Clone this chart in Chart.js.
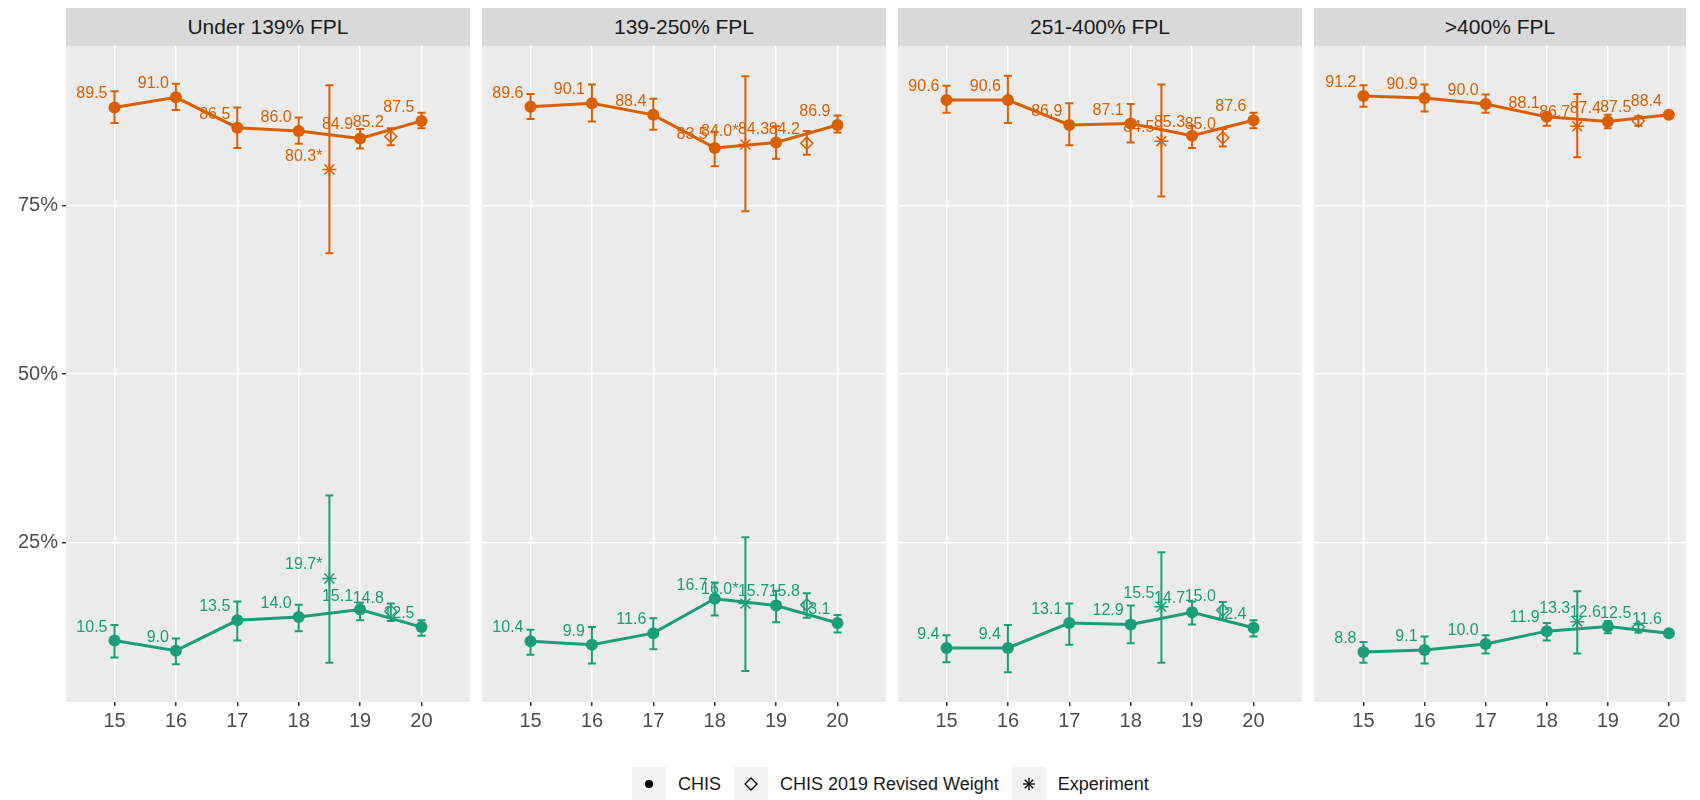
<!DOCTYPE html>
<html>
<head>
<meta charset="utf-8">
<script src="https://cdn.jsdelivr.net/npm/chart.js@4"></script>
<style>
  body {
    margin: 0;
    width: 1700px;
    height: 800px;
    background: #ffffff;
    position: relative;
    overflow: hidden;
    font-family: "Liberation Sans", Arial, sans-serif;
  }
  .strip {
    position: absolute;
    top: 8px;
    height: 38px;
    background: #d9d9d9;
    color: #1a1a1a;
    font-size: 21px;
    display: flex;
    align-items: center;
    justify-content: center;
  }
  .panel {
    position: absolute;
    top: 46px;
    height: 696px;
  }
  #legend {
    position: absolute;
    top: 767px;
    left: 632px;
    height: 34px;
    display: flex;
    align-items: center;
    font-size: 18px;
    color: #1a1a1a;
  }
  #legend .key {
    width: 34px;
    height: 34px;
    background: #f2f2f2;
    display: flex;
    align-items: center;
    justify-content: center;
  }
  #legend .lab {
    margin: 0 13px 0 12px;
  }
</style>
</head>
<body>
<div id="wrap"></div>
<div id="legend">
  <span class="key"><svg width="14" height="14"><circle cx="7" cy="7" r="4" fill="#000"/></svg></span>
  <span class="lab">CHIS</span>
  <span class="key"><svg width="16" height="16"><path d="M8 2 L14 8 L8 14 L2 8 Z" fill="none" stroke="#000" stroke-width="1.3"/></svg></span>
  <span class="lab">CHIS 2019 Revised Weight</span>
  <span class="key"><svg width="16" height="16"><g stroke="#000" stroke-width="1.3"><line x1="8" y1="2" x2="8" y2="14"/><line x1="2" y1="8" x2="14" y2="8"/><line x1="3.8" y1="3.8" x2="12.2" y2="12.2"/><line x1="12.2" y1="3.8" x2="3.8" y2="12.2"/></g></svg></span>
  <span class="lab">Experiment</span>
</div>
<script>
// facet titles and x categories
const panelNames = ["Under 139% FPL", "139-250% FPL", "251-400% FPL", ">400% FPL"];
const years = [15, 16, 17, 18, 19, 20];
const yTicks = [25, 50, 75];
const revisedX = 19.5;
const experimentX = 18.5;

// upper (orange) series, one row per panel
const upperChis = [
  [89.5, 91.0, 86.5, 86.0, 84.9, 87.5],
  [89.6, 90.1, 88.4, 83.5, 84.3, 86.9],
  [90.6, 90.6, 86.9, 87.1, 85.3, 87.6],
  [91.2, 90.9, 90.0, 88.1, 87.4, 88.4],
];
const upperChisLo = [
  [87.2, 89.1, 83.5, 84.1, 83.4, 86.4],
  [87.8, 87.4, 86.2, 80.8, 81.9, 85.8],
  [88.7, 87.2, 83.9, 84.3, 83.5, 86.4],
  [89.6, 88.9, 88.7, 86.8, 86.4, 88.1],
];
const upperChisHi = [
  [91.9, 93.0, 89.5, 88.0, 86.3, 88.7],
  [91.5, 92.9, 90.8, 85.9, 86.7, 88.3],
  [92.7, 94.2, 90.1, 90.0, 86.8, 88.7],
  [92.8, 92.9, 91.4, 88.7, 88.4, 88.7],
];
const upperRevised = [85.2, 84.2, 85.0, 87.5];
const upperRevisedLo = [83.9, 82.5, 83.7, 86.8];
const upperRevisedHi = [86.4, 86.0, 86.3, 88.2];
const upperExp = [80.3, 84.0, 84.5, 86.7];
const upperExpLo = [67.9, 74.1, 76.3, 82.1];
const upperExpHi = [92.8, 94.1, 92.9, 91.5];
const upperExpSig = [true, true, false, false];

// lower (green) series
const lowerChis = [
  [10.5, 9.0, 13.5, 14.0, 15.1, 12.5],
  [10.4, 9.9, 11.6, 16.7, 15.7, 13.1],
  [9.4, 9.4, 13.1, 12.9, 14.7, 12.4],
  [8.8, 9.1, 10.0, 11.9, 12.6, 11.6],
];
const lowerChisLo = [
  [8.0, 7.0, 10.5, 11.9, 13.5, 11.2],
  [8.4, 7.1, 9.2, 14.2, 13.2, 11.7],
  [7.3, 5.8, 9.9, 10.1, 12.9, 11.1],
  [7.2, 7.1, 8.6, 10.5, 11.6, 11.3],
];
const lowerChisHi = [
  [12.8, 10.8, 16.3, 15.8, 16.1, 13.5],
  [12.1, 12.5, 13.8, 19.1, 17.9, 14.3],
  [11.3, 12.8, 16.0, 15.7, 16.3, 13.5],
  [10.3, 11.1, 11.3, 13.1, 13.4, 11.9],
];
const lowerRevised = [14.8, 15.8, 15.0, 12.5];
const lowerRevisedLo = [13.4, 13.9, 13.6, 11.7];
const lowerRevisedHi = [16.0, 17.5, 16.2, 12.9];
const lowerExp = [19.7, 16.0, 15.5, 13.3];
const lowerExpLo = [7.2, 6.0, 7.2, 8.6];
const lowerExpHi = [32.0, 25.8, 23.6, 17.8];
const lowerExpSig = [true, true, false, false];

// layout
const ORANGE = "#D95F02";
const GREEN = "#1B9E77";
const panelLeft = [66, 482, 898, 1314];
const panelWidth = [404, 404, 404, 372];
const xRange = [[14.21, 20.79], [14.21, 20.79], [14.21, 20.79], [14.19, 20.28]];
const yAxisWidth = 66;

const fmt = (v) => v.toFixed(1);

// grey panel background, error bars and value labels
const panelDecor = {
  id: "panelDecor",
  beforeDraw(chart) {
    const { ctx, chartArea: a } = chart;
    ctx.save();
    ctx.fillStyle = "#EBEBEB";
    ctx.fillRect(a.left, a.top, a.right - a.left, a.bottom - a.top);
    ctx.restore();
  },
  beforeDatasetsDraw(chart) {
    const { ctx } = chart;
    const x = chart.scales.x;
    const y = chart.scales.y;
    ctx.save();
    chart.data.datasets.forEach((ds) => {
      ds.data.forEach((p, i) => {
        const px = x.getPixelForValue(p.x);
        const py = y.getPixelForValue(p.y);
        ctx.fillStyle = ds.borderColor;
        ctx.font = '16px "Liberation Sans", Arial, sans-serif';
        ctx.textAlign = "right";
        ctx.textBaseline = "alphabetic";
        ctx.fillText(ds.tags[i], px - 7, py - 9);
      });
    });
    chart.data.datasets.forEach((ds) => {
      ds.data.forEach((p, i) => {
        const px = x.getPixelForValue(p.x);
        const yl = y.getPixelForValue(ds.lo[i]);
        const yh = y.getPixelForValue(ds.hi[i]);
        ctx.strokeStyle = ds.borderColor;
        ctx.lineWidth = 2;
        ctx.beginPath();
        ctx.moveTo(px, yl);
        ctx.lineTo(px, yh);
        ctx.moveTo(px - 4, yl);
        ctx.lineTo(px + 4, yl);
        ctx.moveTo(px - 4, yh);
        ctx.lineTo(px + 4, yh);
        ctx.stroke();
      });
    });
    ctx.restore();
  },
};

function chisSet(vals, lo, hi, color) {
  return {
    type: "line",
    data: years.map((yr, i) => ({ x: yr, y: vals[i] })),
    lo: lo,
    hi: hi,
    tags: vals.map(fmt),
    borderColor: color,
    backgroundColor: color,
    borderWidth: 3,
    pointStyle: "circle",
    pointRadius: 6,
    pointBorderWidth: 0,
    tension: 0,
    fill: false,
  };
}

function markSet(xv, v, lo, hi, color, style, tag) {
  return {
    type: "line",
    showLine: false,
    data: [{ x: xv, y: v }],
    lo: [lo],
    hi: [hi],
    tags: [tag],
    borderColor: color,
    backgroundColor: "rgba(0,0,0,0)",
    pointStyle: style,
    pointRadius: style === "star" ? 7 : 6,
    pointBorderWidth: 1.5,
  };
}

const wrap = document.getElementById("wrap");

panelNames.forEach((name, k) => {
  const strip = document.createElement("div");
  strip.className = "strip";
  strip.style.left = panelLeft[k] + "px";
  strip.style.width = panelWidth[k] + "px";
  strip.textContent = name;
  wrap.appendChild(strip);

  const first = k === 0;
  const box = document.createElement("div");
  box.className = "panel";
  const left = first ? 0 : panelLeft[k];
  const width = first ? panelLeft[k] + panelWidth[k] : panelWidth[k];
  box.style.left = left + "px";
  box.style.width = width + "px";
  const canvas = document.createElement("canvas");
  box.appendChild(canvas);
  wrap.appendChild(box);

  new Chart(canvas, {
    type: "line",
    data: {
      datasets: [
        chisSet(upperChis[k], upperChisLo[k], upperChisHi[k], ORANGE),
        chisSet(lowerChis[k], lowerChisLo[k], lowerChisHi[k], GREEN),
        markSet(revisedX, upperRevised[k], upperRevisedLo[k], upperRevisedHi[k], ORANGE, "rectRot", fmt(upperRevised[k])),
        markSet(revisedX, lowerRevised[k], lowerRevisedLo[k], lowerRevisedHi[k], GREEN, "rectRot", fmt(lowerRevised[k])),
        markSet(experimentX, upperExp[k], upperExpLo[k], upperExpHi[k], ORANGE, "star", fmt(upperExp[k]) + (upperExpSig[k] ? "*" : "")),
        markSet(experimentX, lowerExp[k], lowerExpLo[k], lowerExpHi[k], GREEN, "star", fmt(lowerExp[k]) + (lowerExpSig[k] ? "*" : "")),
      ],
    },
    options: {
      responsive: true,
      maintainAspectRatio: false,
      animation: false,
      layout: { padding: 0, autoPadding: false },
      plugins: {
        legend: { display: false },
        tooltip: { enabled: false },
      },
      scales: {
        x: {
          type: "linear",
          min: xRange[k][0],
          max: xRange[k][1],
          afterBuildTicks: (scale) => {
            scale.ticks = years.map((v) => ({ value: v }));
          },
          afterFit: (scale) => {
            scale.height = 40;
            scale.paddingLeft = 0;
            scale.paddingRight = 0;
          },
          grid: {
            color: "#ffffff",
            lineWidth: 1.5,
            drawTicks: true,
            tickLength: 4,
            tickColor: "#333333",
          },
          border: { display: false },
          ticks: {
            color: "#4D4D4D",
            padding: 3,
            maxRotation: 0,
            font: { size: 20, family: "Liberation Sans" },
          },
        },
        y: {
          type: "linear",
          min: 1.4,
          max: 98.6,
          afterBuildTicks: (scale) => {
            scale.ticks = yTicks.map((v) => ({ value: v }));
          },
          afterFit: (scale) => {
            scale.width = first ? yAxisWidth : 0;
            scale.paddingTop = 0;
            scale.paddingBottom = 0;
          },
          grid: {
            color: "#ffffff",
            lineWidth: 1.5,
            drawTicks: first,
            tickLength: 4,
            tickColor: "#333333",
          },
          border: { display: false },
          ticks: {
            display: first,
            color: "#4D4D4D",
            padding: 4,
            font: { size: 20, family: "Liberation Sans" },
            callback: (v) => v + "%",
          },
        },
      },
    },
    plugins: [panelDecor],
  });
});
</script>
</body>
</html>
